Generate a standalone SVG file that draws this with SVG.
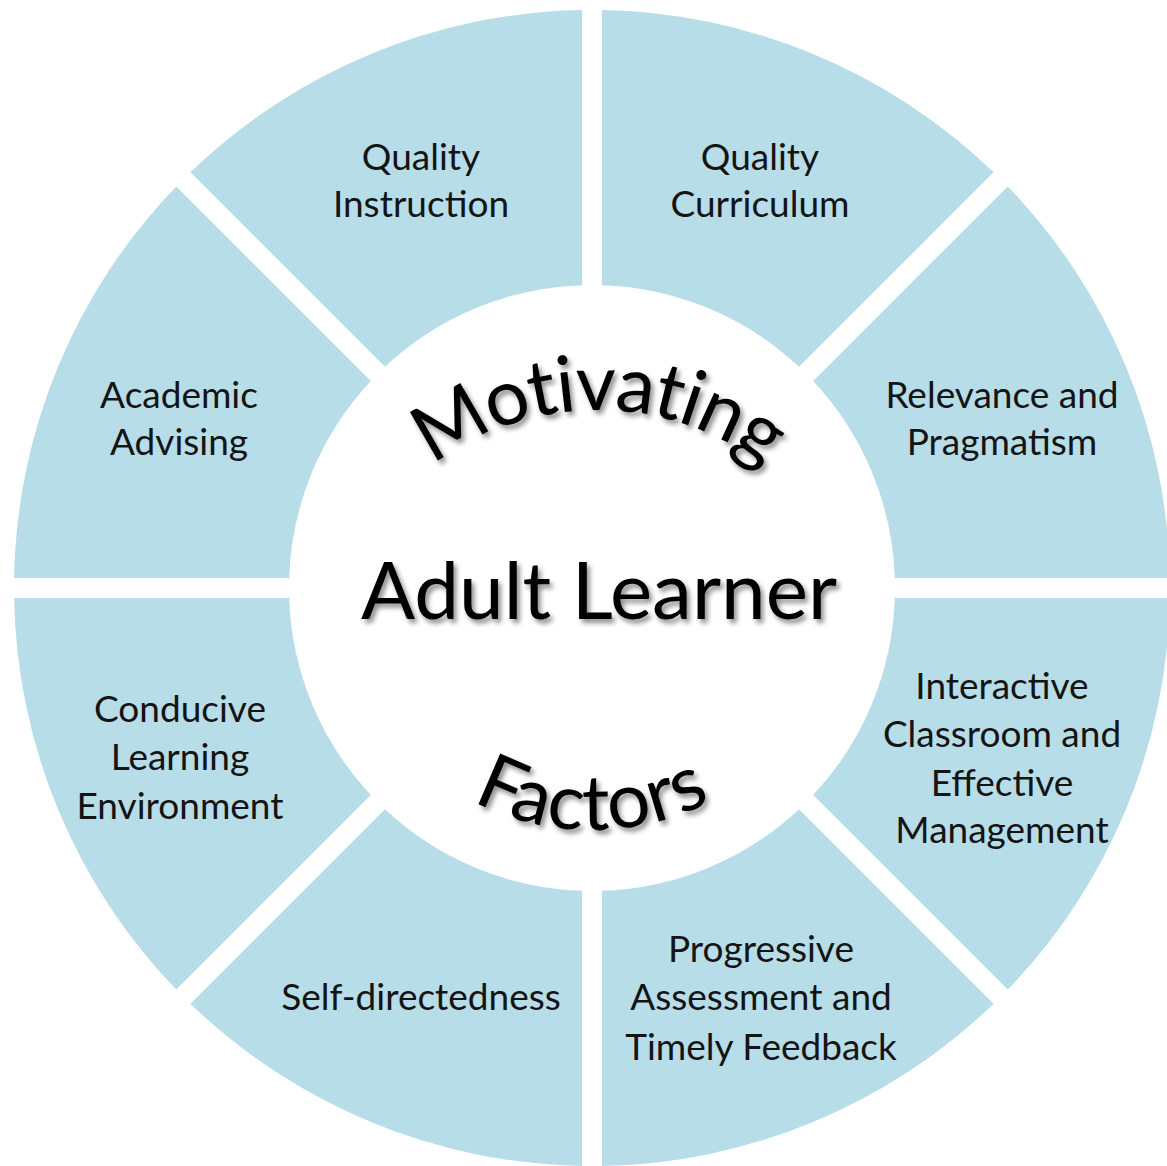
<svg xmlns="http://www.w3.org/2000/svg" width="1167" height="1166" viewBox="0 0 1167 1166">
<style>
.seg{fill:#b7dde8}
.lbl{font-family:Lato,"Open Sans","Liberation Sans",sans-serif;font-size:37px;fill:#141414;text-anchor:middle}
.big{font-family:Lato,"Open Sans","Liberation Sans",sans-serif;fill:#000;filter:url(#sh)}
</style>
<defs>
<filter id="sh" x="-10%" y="-10%" width="130%" height="140%">
<feGaussianBlur in="SourceAlpha" stdDeviation="2.5"/>
<feOffset dx="3" dy="4" result="b"/>
<feComponentTransfer><feFuncA type="linear" slope="0.45"/></feComponentTransfer>
<feMerge><feMergeNode/><feMergeNode in="SourceGraphic"/></feMerge>
</filter>
<path id="arcTop" d="M 326 682 A 272 272 0 0 1 870 682"/>
<path id="arcBot" d="M 332 570 A 260 260 0 0 0 852 570"/>
</defs>
<rect width="1167" height="1166" fill="#fff"/>
<g id="quality-curriculum">
<path class="seg" d="M 602 10.087 A 578 578 0 0 1 993.573 172.286 L 799.067 366.791 A 303 303 0 0 0 602 285.165 Z"/>
<text class="lbl"><tspan x="760" y="170">Quality</tspan><tspan x="760" y="217">Curriculum</tspan></text>
</g>
<g id="relevance-pragmatism">
<path class="seg" d="M 1007.714 186.427 A 578 578 0 0 1 1169.913 578 L 894.835 578 A 303 303 0 0 0 813.209 380.933 Z"/>
<text class="lbl"><tspan x="1002" y="408">Relevance and</tspan><tspan x="1002" y="455">Pragmatism</tspan></text>
</g>
<g id="interactive-classroom">
<path class="seg" d="M 1169.913 598 A 578 578 0 0 1 1007.714 989.573 L 813.209 795.067 A 303 303 0 0 0 894.835 598 Z"/>
<text class="lbl"><tspan x="1002" y="699">Interactive</tspan><tspan x="1002" y="747">Classroom and</tspan><tspan x="1002" y="796">Effective</tspan><tspan x="1002" y="843">Management</tspan></text>
</g>
<g id="progressive-assessment">
<path class="seg" d="M 993.573 1003.714 A 578 578 0 0 1 602 1165.913 L 602 890.835 A 303 303 0 0 0 799.067 809.209 Z"/>
<text class="lbl"><tspan x="761" y="962">Progressive</tspan><tspan x="761" y="1010">Assessment and</tspan><tspan x="761" y="1060">Timely Feedback</tspan></text>
</g>
<g id="self-directedness">
<path class="seg" d="M 582 1165.913 A 578 578 0 0 1 190.427 1003.714 L 384.933 809.209 A 303 303 0 0 0 582 890.835 Z"/>
<text class="lbl"><tspan x="421" y="1010">Self-directedness</tspan></text>
</g>
<g id="conducive-environment">
<path class="seg" d="M 176.286 989.573 A 578 578 0 0 1 14.087 598 L 289.165 598 A 303 303 0 0 0 370.791 795.067 Z"/>
<text class="lbl"><tspan x="180" y="722">Conducive</tspan><tspan x="180" y="770">Learning</tspan><tspan x="180" y="819">Environment</tspan></text>
</g>
<g id="academic-advising">
<path class="seg" d="M 14.087 578 A 578 578 0 0 1 176.286 186.427 L 370.791 380.933 A 303 303 0 0 0 289.165 578 Z"/>
<text class="lbl"><tspan x="179" y="408">Academic</tspan><tspan x="179" y="455">Advising</tspan></text>
</g>
<g id="quality-instruction">
<path class="seg" d="M 190.427 172.286 A 578 578 0 0 1 582 10.087 L 582 285.165 A 303 303 0 0 0 384.933 366.791 Z"/>
<text class="lbl"><tspan x="421" y="170">Quality</tspan><tspan x="421" y="217">Instruction</tspan></text>
</g>
<g id="center">
<text class="big" font-size="78" letter-spacing="-1.5"><textPath href="#arcTop" startOffset="50%" text-anchor="middle">Motivating</textPath></text>
<text class="big" x="599" y="619" font-size="80" text-anchor="middle">Adult Learner</text>
<text class="big" font-size="77" letter-spacing="0.5"><textPath href="#arcBot" startOffset="50%" text-anchor="middle">Factors</textPath></text>
</g>
<g id="connectors"/>
</svg>
